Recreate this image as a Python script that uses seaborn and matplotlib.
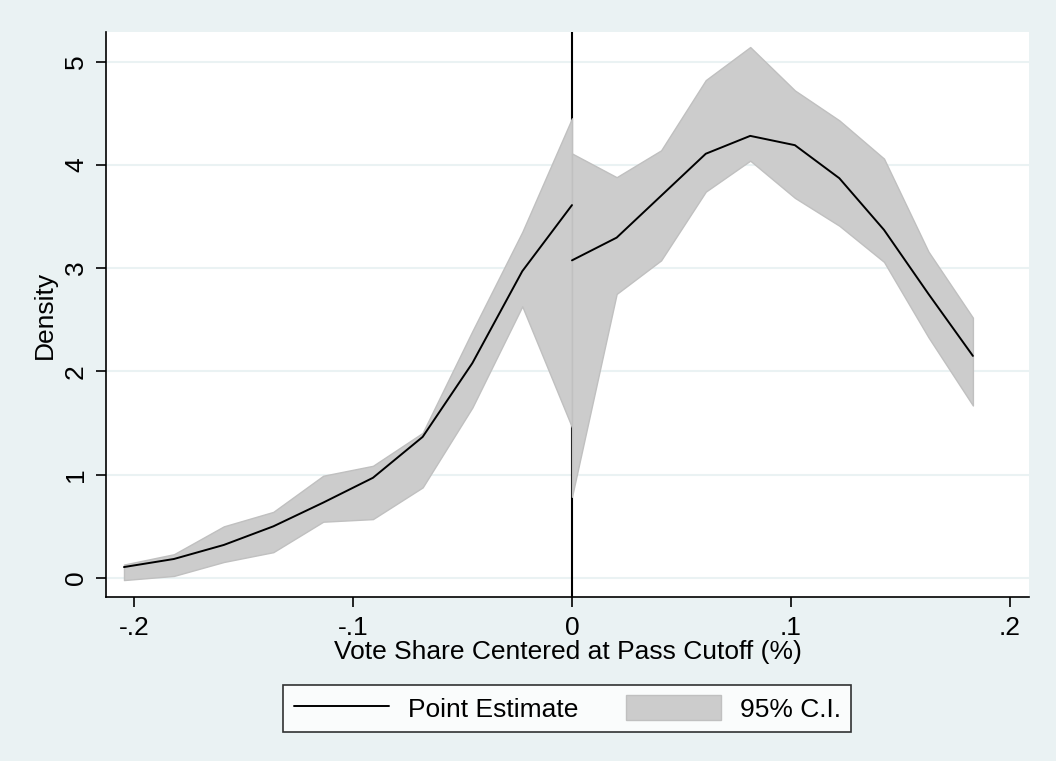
import pandas as pd
import matplotlib.pyplot as plt
from matplotlib.lines import Line2D
from matplotlib.patches import Patch

import seaborn as sns

# left of the cutoff
x_left = [-0.2046, -0.1818, -0.1590, -0.1364, -0.1136, -0.0909, -0.0682, -0.0455, -0.0227, 0.0]
est_left = [0.106, 0.184, 0.32, 0.50, 0.73, 0.97, 1.366, 2.08, 2.97, 3.61]
lo_left = [-0.02, 0.02, 0.155, 0.25, 0.545, 0.57, 0.877, 1.65, 2.63, 1.46]
hi_left = [0.13, 0.23, 0.50, 0.64, 0.99, 1.086, 1.405, 2.39, 3.35, 4.45]

# right of the cutoff
x_right = [0.0, 0.0204, 0.0407, 0.0611, 0.0814, 0.1018, 0.1221, 0.1425, 0.1628, 0.1831]
est_right = [3.075, 3.295, 3.70, 4.107, 4.28, 4.19, 3.87, 3.37, 2.75, 2.15]
lo_right = [0.786, 2.75, 3.075, 3.74, 4.04, 3.68, 3.41, 3.06, 2.33, 1.67]
hi_right = [4.11, 3.88, 4.14, 4.82, 5.14, 4.72, 4.43, 4.06, 3.16, 2.52]

xticks = [-0.2, -0.1, 0, 0.1, 0.2]
xticklabels = ["-.2", "-.1", "0", ".1", ".2"]
yticks = [0, 1, 2, 3, 4, 5]

bg = "#eaf2f3"
band = "#cccccc"
fs = 19

sns.set_style("white")
plt.rcParams["font.family"] = ["Liberation Sans", "DejaVu Sans"]
plt.rcParams["text.color"] = "black"
plt.rcParams["axes.labelcolor"] = "black"
plt.rcParams["xtick.color"] = "black"
plt.rcParams["ytick.color"] = "black"

df = pd.DataFrame({
    "x": x_left + x_right,
    "est": est_left + est_right,
    "side": ["left"] * len(x_left) + ["right"] * len(x_right),
})

fig = plt.figure(figsize=(10.56, 7.61), dpi=100, facecolor=bg)
ax = fig.add_axes([0.1004, 0.2155, 0.8740, 0.7425])
ax.set_facecolor("white")

for y in yticks:
    ax.axhline(y, color=bg, lw=1.5, zorder=0)
ax.axvline(0, color="black", lw=1.5, zorder=1)

ax.fill_between(x_left, lo_left, hi_left, facecolor=band, edgecolor="#c0c0c0", lw=1, zorder=2)
ax.fill_between(x_right, lo_right, hi_right, facecolor=band, edgecolor="#c0c0c0", lw=1, zorder=2)

sns.lineplot(data=df, x="x", y="est", units="side", estimator=None,
             color="black", lw=1.4, ax=ax, zorder=3, legend=False)

ax.set_xlim(-0.2128, 0.2087)
ax.set_ylim(-0.184, 5.286)
ax.set_xticks(xticks)
ax.set_xticklabels(xticklabels)
ax.set_yticks(yticks)
ax.set_yticklabels([str(v) for v in yticks], rotation=90, va="center")

for s in ["top", "right"]:
    ax.spines[s].set_visible(False)
for s in ["left", "bottom"]:
    ax.spines[s].set_color("black")
    ax.spines[s].set_linewidth(1.2)

ax.tick_params(axis="both", direction="out", length=7, width=1.2, color="black",
               labelsize=fs, bottom=True, left=True)
ax.tick_params(axis="x", pad=7)
ax.tick_params(axis="y", pad=6)
ax.set_xlabel("Vote Share Centered at Pass Cutoff (%)", fontsize=fs, labelpad=0)
ax.set_ylabel("Density", fontsize=fs, labelpad=5)

handles = [Line2D([0], [0], color="black", lw=1.4),
           Patch(facecolor=band, edgecolor="#c0c0c0")]
leg = fig.legend(handles, ["Point Estimate", "95% C.I."], loc="center",
                 bbox_to_anchor=(0.537, 0.069), ncol=2, fontsize=fs,
                 frameon=True, fancybox=False, handlelength=3.6, handleheight=1.05,
                 handletextpad=0.72, columnspacing=1.8, borderpad=0.4)
leg.get_frame().set_edgecolor("black")
leg.get_frame().set_linewidth(1.2)
leg.get_frame().set_facecolor("white")

fig.savefig("out.png", dpi=100, facecolor=bg)
